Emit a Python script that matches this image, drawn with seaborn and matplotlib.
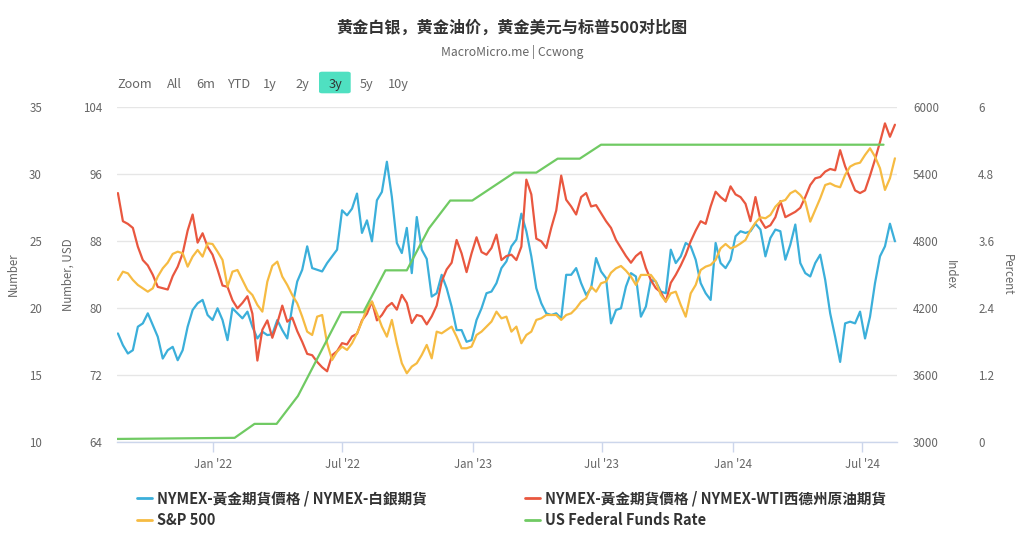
import matplotlib
matplotlib.use('Agg')
import numpy as np
import pandas as pd
import matplotlib.pyplot as plt
import matplotlib.dates as mdates
from matplotlib.lines import Line2D
from matplotlib.patches import FancyBboxPatch
import seaborn as sns

sns.set_theme(style='white')
plt.rcParams['font.family'] = ['Noto Sans CJK TC', 'DejaVu Sans']

# fechas semanales (ago 2021 - ago 2024)
fechas = pd.date_range('2021-08-20', periods=157, freq='7D')

# NYMEX oro / plata (eje "Number, USD")
oro_plata = [
    77.0, 75.6, 74.6, 75.0, 77.8, 78.2, 79.4, 78.0, 76.6, 74.0,
    75.0, 75.4, 73.8, 75.0, 77.8, 79.8, 80.6, 81.0, 79.2, 78.6,
    80.0, 78.6, 76.2, 80.0, 79.4, 78.8, 79.6, 77.8, 76.4, 77.2,
    76.8, 76.9, 78.6, 77.4, 76.4, 80.2, 83.2, 84.6, 87.4, 84.8,
    84.6, 84.4, 85.4, 86.2, 87.0, 91.7, 91.1, 91.9, 93.7, 89.0,
    90.5, 88.0, 92.9, 93.9, 97.5, 93.3, 87.8, 86.6, 89.6, 84.2,
    90.9, 87.0, 85.9, 81.4, 81.8, 84.0, 82.4, 80.2, 77.4, 77.4,
    76.0, 76.2, 78.6, 80.0, 81.8, 82.0, 83.0, 84.8, 85.6, 87.4,
    88.2, 91.3, 89.2, 86.2, 82.4, 80.6, 79.4, 79.2, 79.4, 78.8,
    84.0, 84.0, 84.8, 83.0, 81.6, 82.4, 86.0, 84.4, 83.6, 78.2,
    79.8, 80.0, 82.6, 84.2, 83.8, 79.0, 80.2, 83.4, 83.2, 82.0,
    81.8, 87.0, 85.4, 86.2, 87.8, 87.4, 85.8, 83.0, 81.8, 81.0,
    87.8, 85.4, 84.8, 85.8, 88.6, 89.2, 89.0, 89.2, 90.1, 89.4,
    86.2, 88.4, 89.4, 89.2, 85.8, 87.6, 90.0, 85.4, 84.2, 83.8,
    85.4, 86.4, 83.4, 79.4, 76.6, 73.6, 78.2, 78.4, 78.2, 79.6,
    76.4, 79.0, 83.0, 86.2, 87.4, 90.1, 88.0,
]

# NYMEX oro / WTI (eje "Number")
oro_petroleo = [
    28.6, 26.5, 26.3, 26.0, 24.6, 23.6, 23.2, 22.5, 21.6, 21.5,
    21.4, 22.4, 23.1, 24.1, 25.8, 27.0, 24.9, 25.6, 24.6, 24.0,
    22.9, 21.7, 21.6, 20.6, 20.0, 20.4, 20.9, 19.6, 16.1, 18.4,
    19.1, 17.8, 18.9, 20.2, 19.0, 19.3, 18.3, 17.5, 16.6, 16.5,
    16.0, 15.6, 15.3, 16.5, 16.8, 17.4, 17.3, 17.9, 18.1, 19.1,
    19.6, 20.5, 19.1, 19.5, 20.1, 20.4, 19.9, 21.0, 20.4, 18.9,
    19.5, 19.4, 18.8, 19.4, 20.2, 22.0, 22.9, 23.4, 25.1, 24.1,
    22.7, 24.1, 25.3, 24.2, 24.0, 24.5, 25.5, 23.6, 23.9, 24.0,
    23.6, 24.6, 29.6, 28.5, 25.2, 25.0, 24.5, 26.0, 27.3, 29.9,
    28.1, 27.6, 27.0, 28.3, 28.6, 27.6, 27.7, 27.1, 26.5, 26.0,
    25.1, 24.5, 23.9, 23.4, 23.9, 24.2, 23.0, 22.1, 21.5, 21.2,
    20.5, 21.9, 22.5, 23.2, 24.0, 25.0, 25.8, 26.5, 26.3, 27.6,
    28.7, 28.3, 28.0, 29.1, 28.5, 28.3, 27.8, 26.5, 28.3, 26.6,
    26.0, 26.2, 26.8, 28.0, 26.8, 27.0, 27.2, 27.5, 28.3, 29.2,
    29.7, 29.8, 30.2, 30.4, 30.3, 31.8, 30.6, 29.7, 28.8, 28.6,
    28.8, 29.9, 31.1, 32.4, 33.8, 32.8, 33.7,
]

# S&P 500 (eje "Index")
sp500 = [
    4454, 4528, 4513, 4454, 4409, 4379, 4349, 4379, 4484, 4558,
    4609, 4687, 4707, 4693, 4573, 4663, 4722, 4663, 4782, 4776,
    4707, 4633, 4394, 4528, 4543, 4454, 4364, 4319, 4230, 4170,
    4439, 4580, 4618, 4484, 4409, 4319, 4245, 4125, 3991, 3961,
    4125, 4140, 3887, 3737, 3812, 3857, 3827, 3887, 3976, 4081,
    4200, 4260, 4155, 4036, 3946, 4096, 3887, 3708, 3618, 3678,
    3708, 3782, 3872, 3752, 3991, 3976, 4006, 4036, 3946, 3842,
    3842, 3857, 3961, 3991, 4036, 4081, 4170, 4110, 4125, 3991,
    4036, 3887, 3961, 3991, 4096, 4110, 4140, 4140, 4140, 4096,
    4140, 4155, 4200, 4260, 4290, 4394, 4349, 4424, 4439, 4519,
    4558, 4579, 4537, 4484, 4409, 4499, 4499, 4499, 4439, 4319,
    4260, 4334, 4349, 4230, 4125, 4334, 4409, 4543, 4573, 4588,
    4633, 4737, 4776, 4737, 4752, 4780, 4812, 4901, 4967, 5015,
    5006, 5036, 5110, 5155, 5170, 5230, 5254, 5215, 5155, 4976,
    5081, 5185, 5304, 5319, 5296, 5284, 5394, 5469, 5493, 5504,
    5573, 5633, 5558, 5454, 5260, 5364, 5543,
]

# tasa de fondos federales (eje "Percent")
fed_fechas = pd.to_datetime([
    '2021-08-19', '2022-01-31', '2022-02-28', '2022-03-31', '2022-04-30',
    '2022-06-30', '2022-07-31', '2022-08-31', '2022-09-30', '2022-10-31',
    '2022-11-30', '2022-12-31', '2023-02-28', '2023-03-31', '2023-04-30',
    '2023-05-31', '2023-06-30', '2024-07-31',
])
fed_tasa = [0.06, 0.08, 0.33, 0.33, 0.83, 2.33, 2.33, 3.08, 3.08, 3.83,
            4.33, 4.33, 4.83, 4.83, 5.08, 5.08, 5.33, 5.33]

azul, rojo, naranja, verde = '#3bafda', '#e9573f', '#f6bb42', '#70ca63'
gris = '#666666'

W, H = 1024, 549
fig = plt.figure(figsize=(W / 100, H / 100), dpi=100)

ax = fig.add_axes([117 / W, 1 - 442.3 / H, 780 / W, 335 / H])
ax_oil = ax.twinx()
ax_sp = ax.twinx()
ax_fed = ax.twinx()

sns.lineplot(x=fechas, y=oro_plata, ax=ax, color=azul, linewidth=1.6)
sns.lineplot(x=fechas, y=oro_petroleo, ax=ax_oil, color=rojo, linewidth=1.6)
sns.lineplot(x=fechas, y=sp500, ax=ax_sp, color=naranja, linewidth=1.6)
sns.lineplot(x=fed_fechas, y=fed_tasa, ax=ax_fed, color=verde, linewidth=1.6)

ax.set_xlim(pd.Timestamp('2021-08-18 17:00'), pd.Timestamp('2024-08-18 22:00'))
ax.set_ylim(64, 104)
ax.set_yticks(range(64, 105, 8))
ax_oil.set_ylim(10, 35)
ax_oil.set_yticks(range(10, 36, 5))
ax_oil.yaxis.tick_left()
ax_sp.set_ylim(3000, 6000)
ax_sp.set_yticks(range(3000, 6001, 600))
ax_fed.set_ylim(0, 6)
ax_fed.set_yticks([0, 1.2, 2.4, 3.6, 4.8, 6])
ax_fed.set_yticklabels(['0', '1.2', '2.4', '3.6', '4.8', '6'])

for a in [ax, ax_oil, ax_sp, ax_fed]:
    a.set_xlabel('')
    a.set_ylabel('')
    for s in a.spines.values():
        s.set_visible(False)

ax.tick_params(axis='y', left=False, length=0, pad=10.8, labelsize=8.3, labelcolor=gris)
ax_oil.tick_params(axis='y', left=False, length=0, pad=54, labelsize=8.3, labelcolor=gris)
ax_sp.tick_params(axis='y', right=False, length=0, pad=11.5, labelsize=8.3, labelcolor=gris)
ax_fed.tick_params(axis='y', right=False, length=0, pad=58.5, labelsize=8.3, labelcolor=gris)

ax.yaxis.grid(True, color='#e6e6e6', linewidth=1)
ax.xaxis.grid(False)
ax.spines['bottom'].set_visible(True)
ax.spines['bottom'].set_color('#ccd6eb')
ax.spines['bottom'].set_linewidth(1)
ax.xaxis.set_major_locator(mdates.MonthLocator(bymonth=[1, 7]))
ax.xaxis.set_major_formatter(mdates.DateFormatter("%b '%y"))
ax.tick_params(axis='x', bottom=True, length=7, width=1, color='#ccd6eb',
               pad=4, labelsize=8.3, labelcolor=gris)

def fpos(x, y):
    return x / W, 1 - y / H

# titulos de ejes
fig.text(*fpos(13.3, 274.6), 'Number', rotation=90, ha='center', va='center', fontsize=8.3, color=gris)
fig.text(*fpos(67.7, 274.6), 'Number, USD', rotation=90, ha='center', va='center', fontsize=8.3, color=gris)
fig.text(*fpos(950.7, 274.6), 'Index', rotation=270, ha='center', va='center', fontsize=8.3, color=gris)
fig.text(*fpos(1007, 274.6), 'Percent', rotation=270, ha='center', va='center', fontsize=8.3, color=gris)

# titulo
fig.text(*fpos(512, 28), '黄金白银，黄金油价，黄金美元与标普500对比图', ha='center', va='center',
         fontsize=11.6, fontweight='bold', color='#333333', family=['Noto Sans CJK SC', 'DejaVu Sans'])
fig.text(*fpos(512, 52), 'MacroMicro.me | Ccwong', ha='center', va='center', fontsize=8.8, color=gris)

# selector de rango
boton = FancyBboxPatch(fpos(319, 93.3), 31.7 / W, 21.6 / H, boxstyle='round,pad=0,rounding_size=0.003',
                       transform=fig.transFigure, facecolor='#4fe0c1', edgecolor='none')
fig.add_artist(boton)
botones = ['Zoom', 'All', '6m', 'YTD', '1y', '2y', '3y', '5y', '10y']
centros = [135, 174.7, 206, 238.3, 270, 302.5, 335, 366.3, 398.3]
for b, c in zip(botones, centros):
    fig.text(*fpos(c, 88.3), b, ha='center', va='baseline', fontsize=9.2,
             color='#333333' if b == '3y' else gris)

# leyenda
h_azul = Line2D([], [], color=azul, lw=2)
h_rojo = Line2D([], [], color=rojo, lw=2)
h_nar = Line2D([], [], color=naranja, lw=2)
h_ver = Line2D([], [], color=verde, lw=2)
estilo = dict(loc='upper left', frameon=False, prop={'weight': 'bold', 'size': 10.5},
              handlelength=1.05, handletextpad=0.35, labelspacing=0.4, borderpad=0,
              borderaxespad=0, labelcolor='#333333')
fig.legend([h_azul, h_nar], ['NYMEX-黃金期貨價格 / NYMEX-白銀期貨', 'S&P 500'],
           bbox_to_anchor=fpos(137, 490), **estilo)
fig.legend([h_rojo, h_ver], ['NYMEX-黃金期貨價格 / NYMEX-WTI西德州原油期貨', 'US Federal Funds Rate'],
           bbox_to_anchor=fpos(525, 490), **estilo)

fig.savefig('out.png', dpi=100)
